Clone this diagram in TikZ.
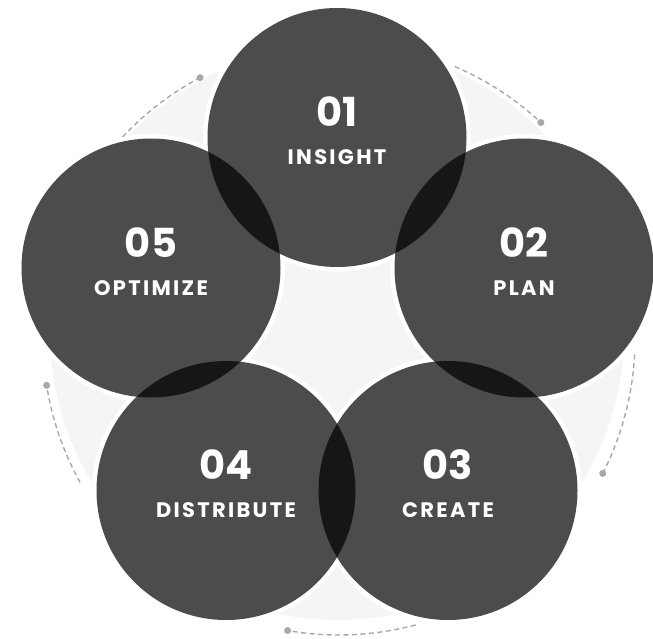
\documentclass[tikz,border=0pt]{standalone}
\usepackage{fontspec}
\setmainfont{Poppins}
\newfontfamily\labelfont{Poppins}[LetterSpace=11]

\definecolor{bgring}{HTML}{F5F5F5}
\definecolor{dashgray}{HTML}{A8A8A8}

\def\dia{259pt}
\def\halodia{268pt}
\def\ringr{296}

\begin{document}
\begin{tikzpicture}[x=1pt,y=1pt,
    halo/.style={circle,inner sep=0pt,minimum size=\halodia,fill=white},
    stage/.style={circle,inner sep=0pt,minimum size=\dia,fill=black,fill opacity=0.7},
    numtxt/.style={anchor=base,text=white,font=\fontsize{40}{40}\selectfont\bfseries},
    steptxt/.style={anchor=base,text=white,font=\labelfont\fontsize{21}{21}\selectfont\bfseries},
    ringdash/.style={dashgray,line width=1.4pt,dash pattern=on 5pt off 3.5pt}]
    \useasboundingbox (0,0) rectangle (653,-639);

    % light disc behind the five stages
    \coordinate (mid) at (337,-333);
    \fill[bgring] (mid) circle (287);

    % dashed ring pieces, each ending in a dot
    \coordinate (ring) at (339,-339);
    \foreach \i/\a/\b in {1/137/118, 2/67/47, 3/-3/-27, 4/-75/-100, 5/209/189} {
        \draw[ringdash] ([shift={(\a:\ringr)}]ring) arc[start angle=\a,end angle=\b,radius=\ringr] coordinate (d\i);
        \fill[dashgray] (d\i) circle (3.5);
    }

    % the stages
    \foreach \i/\cx/\cy in {1/337/-137.5, 2/524/-268, 3/448/-490.5, 4/226/-490.5, 5/151/-268}
        \node[halo] (h\i) at (\cx,\cy) {};
    \foreach \i/\cx/\cy in {1/337/-137.5, 2/524/-268, 3/448/-490.5, 4/226/-490.5, 5/151/-268}
        \node[stage] (s\i) at (\cx,\cy) {};

    \foreach \i/\name in {1/INSIGHT, 2/PLAN, 3/CREATE, 4/DISTRIBUTE, 5/OPTIMIZE} {
        \node[numtxt] (n\i) at ([yshift=11pt]s\i.center) {0\i};
        \node[steptxt] (t\i) at ([yshift=-27pt]s\i.center) {\name};
    }
\end{tikzpicture}
\end{document}
